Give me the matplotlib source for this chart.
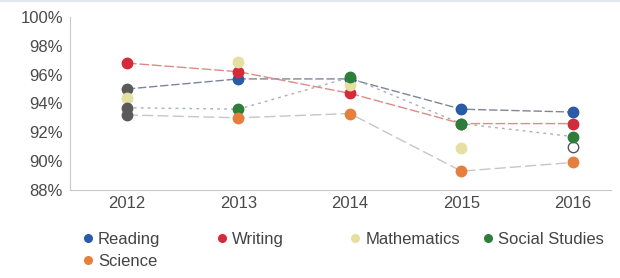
import matplotlib
matplotlib.use("Agg")
import matplotlib.pyplot as plt
from matplotlib.lines import Line2D

years = [2012, 2013, 2014, 2015, 2016]
reading = [95.0, 95.7, 95.7, 93.6, 93.4]
writing = [96.8, 96.2, 94.7, 92.6, 92.6]
mathematics = [94.4, 96.9, 95.3, 90.9, 91.0]
social_studies = [93.7, 93.6, 95.8, 92.6, 91.7]
science = [93.2, 93.0, 93.3, 89.3, 89.9]
yticks = [88, 90, 92, 94, 96, 98, 100]

plt.rcParams['font.family'] = ['Liberation Sans', 'DejaVu Sans']

fig = plt.figure(figsize=(6.2, 2.78), dpi=100)
ax = fig.add_axes([0.113, 0.317, 0.872, 0.622])

# name, values, marker colour, line colour, line style
series = [
    ("Reading", reading, "#2a5ba6", "#7d8696", (0, (6, 2))),
    ("Writing", writing, "#d42a3c", "#e08a86", (0, (7, 2))),
    ("Mathematics", mathematics, "#e6dfa2", "none", "-"),
    ("Social Studies", social_studies, "#2f7d3b", "#a9b0b6", (0, (2, 3))),
    ("Science", science, "#e47f3c", "#c6c6c6", (0, (8, 3))),
]

# first-year markers show up greyed out in the original
grey_first = {"Reading", "Social Studies", "Science"}

handles = []
for name, vals, mc, lc, ls in series:
    if lc != "none":
        ax.plot(years, vals, color=lc, lw=1.0, ls=ls, zorder=2)
    for i, (x, v) in enumerate(zip(years, vals)):
        fc, ec = mc, mc
        if i == 0 and name in grey_first:
            fc, ec = "#5a5a5a", "#5a5a5a"
        if name == "Mathematics" and i == 4:
            fc, ec = "white", "#555555"
        ax.plot([x], [v], "o", ms=7.5, mfc=fc, mec=ec, mew=1.0, zorder=3)
    handles.append(Line2D([], [], ls="none", marker="o", ms=5.5, color=mc, label=name))

ax.set_ylim(88, 100)
ax.set_yticks(yticks)
ax.set_yticklabels([f"{t}%" for t in yticks])
ax.set_xlim(2011.49, 2016.34)
ax.set_xticks(years)
ax.tick_params(length=0, labelsize=12, colors="#4a4a4a")
ax.tick_params(axis="x", pad=4.5)
ax.tick_params(axis="y", pad=5)
for s in ["top", "right"]:
    ax.spines[s].set_visible(False)
for s in ["left", "bottom"]:
    ax.spines[s].set_color("#c8c8c8")

# legend columns at fixed spacing
cols = [[0, 4], [1], [2], [3]]
xs = [0.134, 0.350, 0.565, 0.779]
for c, x in zip(cols, xs):
    fig.legend([handles[i] for i in c], [series[i][0] for i in c],
               loc="upper left", bbox_to_anchor=(x, 0.167), frameon=False,
               handlelength=0.6, handletextpad=0.3, labelspacing=0.45,
               borderaxespad=0, borderpad=0, fontsize=12, labelcolor="#444444")

fig.add_artist(Line2D([0, 1], [0.997, 0.997], color="#e3e8f0", lw=1.5))

fig.savefig("out.png", dpi=100)
